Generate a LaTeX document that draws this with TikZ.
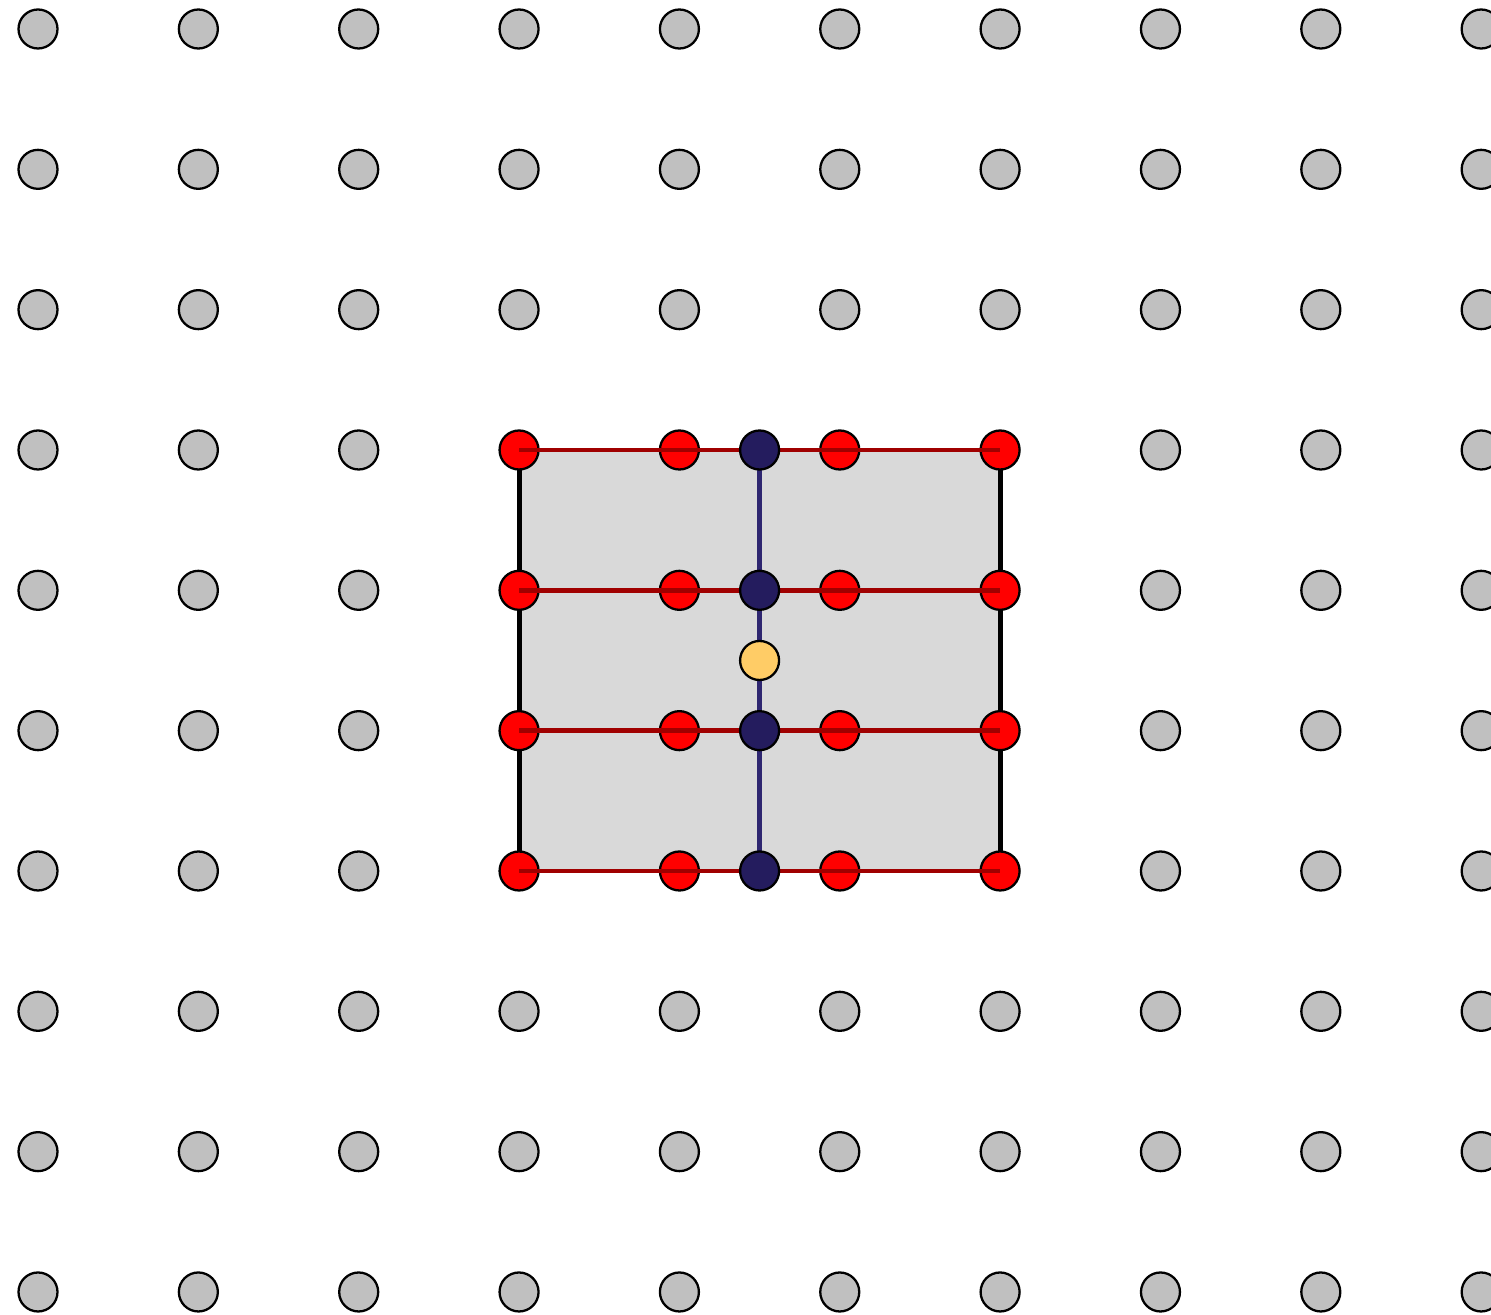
\documentclass[tikz,border=0pt]{standalone}
\usetikzlibrary{positioning}
\definecolor{dotgray}{HTML}{C0C0C0}
\definecolor{cellgray}{HTML}{D9D9D9}
\definecolor{sitered}{HTML}{FF0000}
\definecolor{bondred}{HTML}{A00000}
\definecolor{sitenavy}{HTML}{241C5E}
\definecolor{spinenavy}{HTML}{2E2670}
\definecolor{coreyellow}{HTML}{FFCC66}

\begin{document}
\begin{tikzpicture}[
      x=3.207cm,y=-2.8066cm,
      site/.style={circle,draw=black,line width=1.3pt,minimum size=0.78cm,inner sep=0pt},
      bgsite/.style={site,fill=dotgray},
      redsite/.style={site,fill=sitered},
      navysite/.style={site,fill=sitenavy},
      core/.style={site,fill=coreyellow},
      bond/.style={line width=2.8pt,bondred},
      edge/.style={line width=2.8pt,black},
      spine/.style={line width=2.4pt,spinenavy}
    ]
    \useasboundingbox (-0.237,-0.2067) rectangle (9.0614,9.164);
    \coordinate (nw) at (3,3);
    \coordinate (sw) at (3,6);
    \coordinate (ne) at (6,3);
    \coordinate (se) at (6,6);
    \coordinate (top) at (4.5,3);
    \coordinate (bottom) at (4.5,6);
    \fill[cellgray] (nw) rectangle (se);
    \draw[edge] (nw) -- (sw);
    \draw[edge] (ne) -- (se);
    \draw[spine] (top) -- (bottom);
    \foreach \i in {0,...,9}
      \foreach \j in {0,...,9} {
        \pgfmathtruncatemacro{\inside}{(\i>2)*(\i<7)*(\j>2)*(\j<7)}
        \ifnum\inside=0 \node[bgsite] (g-\i-\j) at (\i,\j) {}; \fi
      }
    \foreach \i in {3,...,6}
      \foreach \j in {3,...,6}
        \node[redsite] (r-\i-\j) at (\i,\j) {};
    \foreach \j in {3,...,6}
      \draw[bond] (r-3-\j.center) -- (r-6-\j.center);
    \foreach \j in {3,...,6}
      \node[navysite] (n-\j) at (4.5,\j) {};
    \node[core] (mid) at (4.5,4.5) {};
  \end{tikzpicture}
\end{document}
